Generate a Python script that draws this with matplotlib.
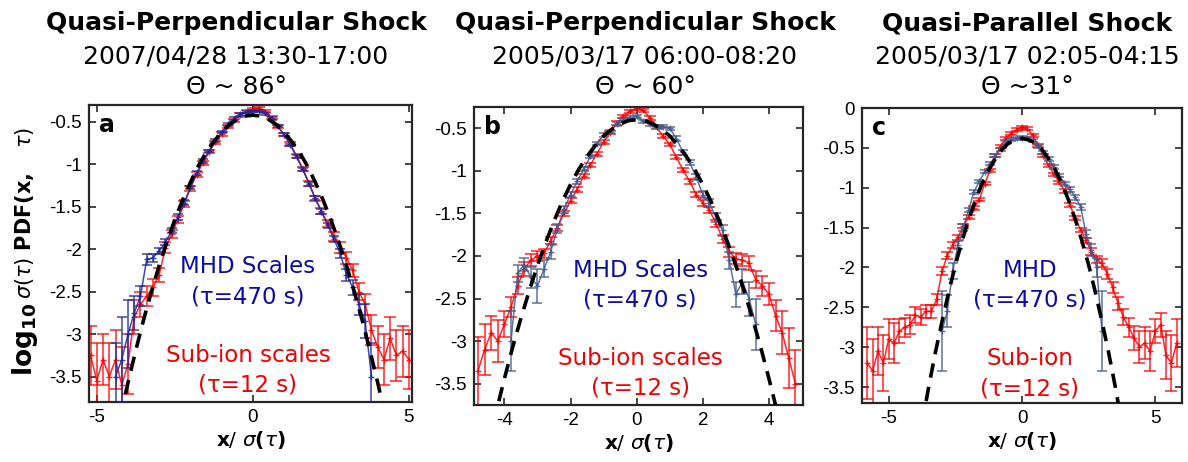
import numpy as np
import matplotlib
matplotlib.use("Agg")
import matplotlib.pyplot as plt
from matplotlib.ticker import FuncFormatter

plt.rcParams['axes.unicode_minus'] = False
plt.rcParams['mathtext.fontset'] = 'dejavusans'

# ---- panel a : 2007/04/28 ----
xa_red = np.round(np.arange(-5.2, 5.01, 0.2), 2)
ya_red = [-3.25, -3.55, -3.30, -3.50, -3.30, -3.60, -3.35, -2.80, -2.65, -2.55,
          -2.45, -2.30, -1.98, -1.82, -1.65, -1.47, -1.28, -1.12, -0.98, -0.85,
          -0.74, -0.64, -0.55, -0.48, -0.42, -0.38, -0.35, -0.34, -0.38, -0.45,
          -0.55, -0.65, -0.76, -0.90, -1.05, -1.22, -1.40, -1.55, -1.70, -1.85,
          -1.98, -2.10, -2.25, -2.50, -2.65, -2.95, -3.15, -3.30, -3.05, -3.25,
          -3.20, -3.30]
ea_red = [0.35, 0.45, 0.30, 0.40, 0.35, 0.45, 0.35, 0.20, 0.15, 0.12,
          0.10, 0.08, 0.06, 0.05, 0.04, 0.035, 0.03, 0.03, 0.025, 0.02,
          0.02, 0.02, 0.02, 0.02, 0.02, 0.02, 0.02, 0.02, 0.02, 0.02,
          0.02, 0.02, 0.02, 0.02, 0.025, 0.03, 0.03, 0.035, 0.04, 0.05,
          0.06, 0.07, 0.08, 0.10, 0.12, 0.18, 0.25, 0.30, 0.25, 0.30,
          0.30, 0.35]
xa_blue = np.round(np.arange(-4.4, 3.81, 0.2), 2)
ya_blue = [-3.50, -3.30, -3.00, -2.75, -2.55, -2.12, -2.10, -2.02, -1.92, -1.78,
           -1.62, -1.45, -1.27, -1.10, -0.96, -0.84, -0.72, -0.62, -0.53, -0.46,
           -0.41, -0.38, -0.37, -0.37, -0.40, -0.46, -0.55, -0.65, -0.77, -0.91,
           -1.06, -1.23, -1.40, -1.56, -1.72, -1.88, -2.05, -2.30, -2.45, -2.65,
           -2.85, -3.50]
ea_blue = [0.40, 0.50, 0.40, 0.20, 0.12, 0.06, 0.05, 0.04, 0.035, 0.03,
           0.03, 0.025, 0.02, 0.02, 0.02, 0.015, 0.015, 0.015, 0.015, 0.015,
           0.015, 0.015, 0.015, 0.015, 0.015, 0.015, 0.015, 0.015, 0.015, 0.02,
           0.02, 0.02, 0.025, 0.03, 0.03, 0.04, 0.05, 0.07, 0.09, 0.12,
           0.20, 0.40]
xa_fit = [-4.25, -4.0, -3.75, -3.5, -3.25, -3.0, -2.75, -2.5, -2.25, -2.0, -1.75, -1.5,
          -1.25, -1.0, -0.75, -0.5, -0.25, 0.0, 0.25, 0.5, 0.75, 1.0, 1.25, 1.5,
          1.75, 2.0, 2.25, 2.5, 2.75, 3.0, 3.25, 3.5, 3.75, 4.0, 4.25]
ya_fit = [-3.98, -3.57, -3.19, -2.83, -2.50, -2.19, -1.91, -1.65, -1.42, -1.21, -1.02, -0.86,
          -0.73, -0.62, -0.53, -0.47, -0.43, -0.42, -0.43, -0.47, -0.53, -0.62, -0.73, -0.86,
          -1.02, -1.21, -1.42, -1.65, -1.91, -2.19, -2.50, -2.83, -3.19, -3.57, -3.98]

# ---- panel b : 2005/03/17 06:00-08:20 ----
xb_red = np.round(np.arange(-4.8, 4.81, 0.2), 2)
yb_red = [-3.35, -3.10, -2.90, -3.00, -2.80, -2.60, -2.35, -2.15, -2.05, -2.00,
          -1.97, -1.82, -1.67, -1.50, -1.35, -1.22, -1.06, -0.93, -0.80, -0.66,
          -0.55, -0.44, -0.36, -0.30, -0.26, -0.29, -0.38, -0.49, -0.59, -0.69,
          -0.84, -0.99, -1.12, -1.28, -1.38, -1.46, -1.62, -1.80, -1.95, -2.03,
          -2.05, -2.08, -2.28, -2.35, -2.45, -2.70, -2.90, -3.20, -3.50]
eb_red = [0.40, 0.30, 0.20, 0.25, 0.15, 0.12, 0.10, 0.08, 0.07, 0.06,
          0.05, 0.04, 0.035, 0.03, 0.03, 0.025, 0.02, 0.02, 0.02, 0.02,
          0.02, 0.02, 0.02, 0.02, 0.02, 0.02, 0.02, 0.02, 0.02, 0.02,
          0.025, 0.025, 0.03, 0.03, 0.035, 0.04, 0.045, 0.05, 0.06, 0.06,
          0.07, 0.08, 0.10, 0.12, 0.13, 0.18, 0.25, 0.35, 0.40]
xb_blue = np.round(np.arange(-3.8, 3.61, 0.2), 2)
yb_blue = [-3.00, -2.20, -2.10, -2.25, -2.35, -2.15, -1.95, -1.68, -1.45, -1.28,
           -1.12, -0.98, -0.83, -0.68, -0.58, -0.54, -0.45, -0.40, -0.38, -0.36,
           -0.42, -0.45, -0.48, -0.48, -0.50, -0.62, -0.78, -0.90, -1.07, -1.28,
           -1.38, -1.55, -1.70, -2.05, -2.45, -2.30, -2.50, -2.80]
eb_blue = [0.35, 0.10, 0.08, 0.12, 0.20, 0.10, 0.08, 0.05, 0.04, 0.03,
           0.03, 0.025, 0.02, 0.02, 0.02, 0.02, 0.02, 0.02, 0.02, 0.02,
           0.02, 0.02, 0.02, 0.02, 0.02, 0.025, 0.03, 0.03, 0.035, 0.04,
           0.05, 0.05, 0.06, 0.10, 0.15, 0.15, 0.20, 0.30]
xb_fit = [-4.5, -4.25, -4.0, -3.75, -3.5, -3.25, -3.0, -2.75, -2.5, -2.25, -2.0, -1.75,
          -1.5, -1.25, -1.0, -0.75, -0.5, -0.25, 0.0, 0.25, 0.5, 0.75, 1.0, 1.25,
          1.5, 1.75, 2.0, 2.25, 2.5, 2.75, 3.0, 3.25, 3.5, 3.75, 4.0, 4.25, 4.5]
yb_fit = [-4.25, -3.83, -3.44, -3.07, -2.73, -2.41, -2.11, -1.84, -1.59, -1.36, -1.16, -0.98,
          -0.83, -0.70, -0.59, -0.51, -0.45, -0.41, -0.40, -0.41, -0.45, -0.51, -0.59, -0.70,
          -0.83, -0.98, -1.16, -1.36, -1.59, -1.84, -2.11, -2.41, -2.73, -3.07, -3.44, -3.83,
          -4.25]

# ---- panel c : 2005/03/17 02:05-04:15 ----
xc_red = np.round(np.arange(-5.8, 5.81, 0.2), 2)
yc_red = [-3.20, -3.30, -3.05, -3.20, -2.90, -2.95, -2.80, -2.75, -2.72, -2.60,
          -2.62, -2.55, -2.55, -2.40, -2.05, -1.85, -1.72, -1.62, -1.48, -1.37,
          -1.25, -1.15, -0.95, -0.78, -0.60, -0.48, -0.38, -0.32, -0.27, -0.24,
          -0.26, -0.34, -0.47, -0.60, -0.72, -0.83, -0.93, -1.04, -1.22, -1.38,
          -1.53, -1.66, -1.80, -1.90, -1.95, -2.08, -2.25, -2.45, -2.62, -2.75,
          -2.88, -3.00, -2.95, -3.05, -2.80, -2.72, -3.10, -3.20, -2.95]
ec_red = [0.45, 0.40, 0.30, 0.35, 0.25, 0.25, 0.15, 0.12, 0.12, 0.10,
          0.10, 0.08, 0.08, 0.07, 0.05, 0.04, 0.035, 0.03, 0.03, 0.025,
          0.025, 0.02, 0.02, 0.02, 0.02, 0.02, 0.02, 0.02, 0.02, 0.02,
          0.02, 0.02, 0.02, 0.02, 0.02, 0.02, 0.02, 0.025, 0.025, 0.03,
          0.03, 0.035, 0.04, 0.045, 0.05, 0.06, 0.07, 0.08, 0.10, 0.12,
          0.15, 0.20, 0.20, 0.25, 0.15, 0.15, 0.30, 0.35, 0.30]
xc_blue = np.round(np.arange(-3.0, 3.01, 0.2), 2)
yc_blue = [-2.80, -2.55, -2.05, -1.72, -1.50, -1.28, -1.05, -0.92, -0.80, -0.70,
           -0.60, -0.52, -0.43, -0.40, -0.38, -0.37, -0.38, -0.41, -0.48, -0.56,
           -0.64, -0.74, -0.85, -0.95, -1.02, -1.12, -1.24, -1.58, -1.78, -2.00,
           -2.80]
ec_blue = [0.50, 0.20, 0.10, 0.05, 0.04, 0.03, 0.025, 0.02, 0.02, 0.02,
           0.02, 0.02, 0.02, 0.02, 0.02, 0.02, 0.02, 0.02, 0.02, 0.02,
           0.02, 0.02, 0.02, 0.025, 0.03, 0.03, 0.04, 0.05, 0.07, 0.12,
           0.50]
xc_fit = [-3.75, -3.5, -3.25, -3.0, -2.75, -2.5, -2.25, -2.0, -1.75, -1.5, -1.25, -1.0,
          -0.75, -0.5, -0.25, 0.0, 0.25, 0.5, 0.75, 1.0, 1.25, 1.5, 1.75, 2.0,
          2.25, 2.5, 2.75, 3.0, 3.25, 3.5, 3.75]
yc_fit = [-3.97, -3.50, -3.07, -2.68, -2.31, -1.97, -1.67, -1.40, -1.16, -0.95, -0.78, -0.64,
          -0.52, -0.44, -0.40, -0.38, -0.40, -0.44, -0.52, -0.64, -0.78, -0.95, -1.16, -1.40,
          -1.67, -1.97, -2.31, -2.68, -3.07, -3.50, -3.97]

titles = ["Quasi-Perpendicular Shock", "Quasi-Perpendicular Shock", "Quasi-Parallel Shock"]
dates = ["2007/04/28 13:30-17:00", "2005/03/17 06:00-08:20", "2005/03/17 02:05-04:15"]
angles = ["\u0398 ~ 86\u00b0", "\u0398 ~ 60\u00b0", "\u0398 ~31\u00b0"]
letters = ["a", "b", "c"]
mhd_txt = ["MHD Scales", "MHD Scales", "MHD"]
ion_txt = ["Sub-ion scales", "Sub-ion scales", "Sub-ion"]

W, H = 1188, 462
fig = plt.figure(figsize=(W / 100, H / 100), dpi=100)

# axes boxes in pixels: left, top, right, bottom
boxes = [(89, 105, 412, 402), (474, 107, 803, 405), (862, 108, 1182, 403)]
title_x = [236, 645, 1027]
xlims = [(-5.25, 5.1), (-4.92, 5.03), (-6.0, 6.0)]
ylims = [(-3.8, -0.3), (-3.75, -0.25), (-3.7, 0.0)]
xticks = [[-5, 0, 5], [-4, -2, 0, 2, 4], [-5, 0, 5]]
yticks = [np.arange(-3.5, -0.4, 0.5), np.arange(-3.5, -0.4, 0.5), np.arange(-3.5, 0.01, 0.5)]
blues = ['#1d2a9a', '#43598c', '#43598c']
text_pos = [(0.492, [0.434, 0.333, 0.135, 0.034]),
            (0.505, [0.431, 0.331, 0.134, 0.034]),
            (0.525, [0.428, 0.326, 0.128, 0.026])]

data = [(xa_red, ya_red, ea_red, xa_blue, ya_blue, ea_blue, xa_fit, ya_fit),
        (xb_red, yb_red, eb_red, xb_blue, yb_blue, eb_blue, xb_fit, yb_fit),
        (xc_red, yc_red, ec_red, xc_blue, yc_blue, ec_blue, xc_fit, yc_fit)]

fmt = FuncFormatter(lambda v, p: '%g' % round(v, 2))

for i in range(3):
    l, t, r, b = boxes[i]
    ax = fig.add_axes([l / W, 1 - b / H, (r - l) / W, (b - t) / H])
    xr, yr, er, xbl, ybl, ebl, xf, yf = data[i]
    assert len(xr) == len(yr) == len(er) and len(xbl) == len(ybl) == len(ebl)
    ax.errorbar(xr, yr, yerr=er, color='#ff0000', lw=1.1, elinewidth=1.1,
                capsize=4.5, capthick=1.1, marker='+', ms=5, alpha=0.85, zorder=2)
    ax.errorbar(xbl, ybl, yerr=ebl, color=blues[i], lw=1.1, elinewidth=1.1,
                capsize=3.5, capthick=1.1, marker='+', ms=5, alpha=0.85, zorder=3)
    ax.plot(xf, yf, color='black', lw=2.6, ls=(0, (4.0, 2.6)), zorder=4)

    ax.set_xlim(*xlims[i])
    ax.set_ylim(*ylims[i])
    ax.set_xticks(xticks[i])
    ax.set_yticks(yticks[i])
    ax.xaxis.set_major_formatter(fmt)
    ax.yaxis.set_major_formatter(fmt)
    ax.tick_params(direction='in', top=True, right=True, length=5, width=1.2,
                   labelsize=13.5, pad=5, color='#262626')
    for lab in ax.get_xticklabels() + ax.get_yticklabels():
        lab.set_family('Liberation Sans')
    for sp in ax.spines.values():
        sp.set_linewidth(1.6)
        sp.set_color('#262626')
    ax.set_xlabel(r'$\mathbf{x}$/ $\sigma\mathbf{(}\tau\mathbf{)}$', fontsize=14.5, labelpad=2)

    ax.text(0.03, 0.91, letters[i], transform=ax.transAxes, fontsize=17,
            fontweight='bold', va='baseline')
    tx, tys = text_pos[i]
    ax.text(tx, tys[0], mhd_txt[i], transform=ax.transAxes, ha='center', va='baseline',
            fontsize=16.5, color='#0c0ca6')
    ax.text(tx, tys[1], '(\u03c4=470 s)', transform=ax.transAxes, ha='center', va='baseline',
            fontsize=16.5, color='#0c0ca6')
    ax.text(tx, tys[2], ion_txt[i], transform=ax.transAxes, ha='center', va='baseline',
            fontsize=16.5, color='#f00000')
    ax.text(tx, tys[3], '(\u03c4=12 s)', transform=ax.transAxes, ha='center', va='baseline',
            fontsize=16.5, color='#f00000')

    cx = title_x[i] / W
    fig.text(cx, 1 - 30 / H, titles[i], ha='center', va='baseline', fontsize=18, fontweight='bold')
    fig.text(cx, 1 - 63 / H, dates[i], ha='center', va='baseline', fontsize=18)
    fig.text(cx, 1 - 94 / H, angles[i], ha='center', va='baseline', fontsize=18)

# y label in two pieces (big bold log10, then the rest)
fig.text(25 / W, 1 - 376 / H, r'$\mathbf{log}_{\mathbf{10}}$', rotation=90,
         ha='center', va='bottom', fontsize=19)
fig.text(25 / W, 1 - 299 / H, r'$\sigma(\tau)\ \mathbf{PDF(x,}\ \ \ \tau)$', rotation=90,
         ha='center', va='bottom', fontsize=15)

fig.savefig('out.png', dpi=100)
